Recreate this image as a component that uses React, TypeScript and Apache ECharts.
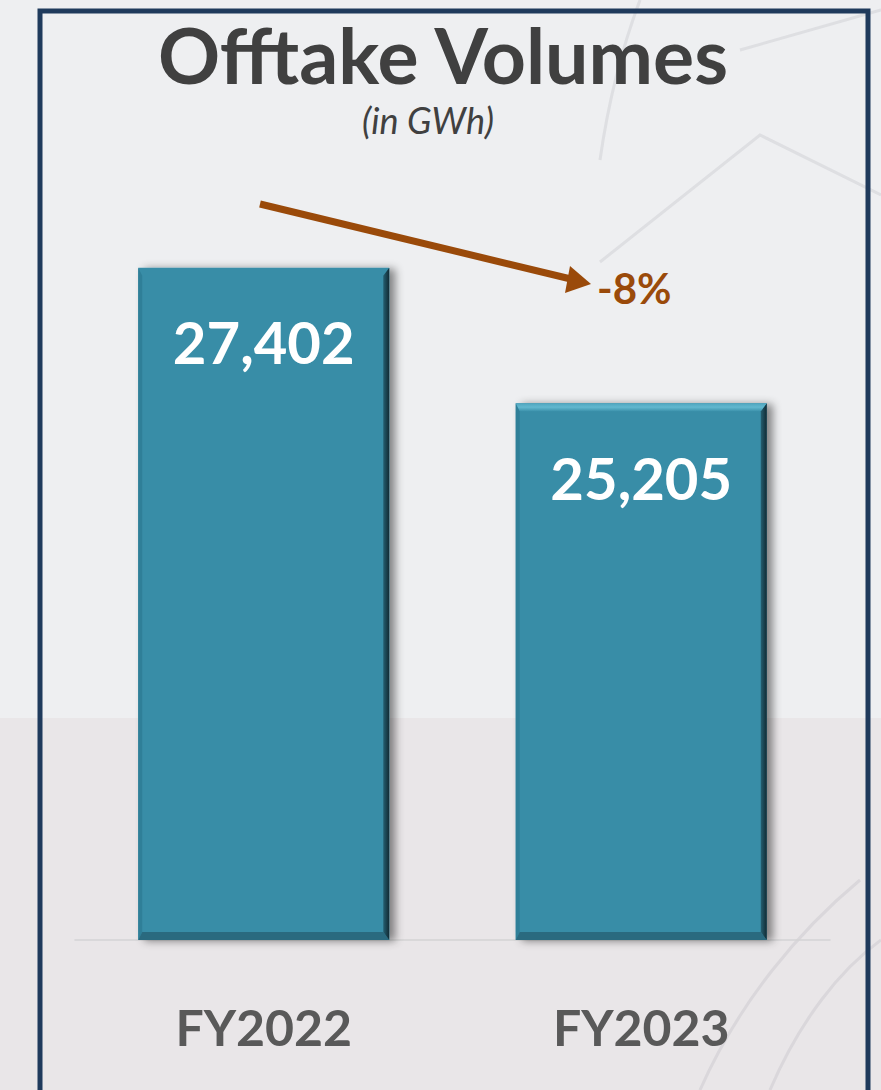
import React, { useEffect, useRef } from "react";
import * as echarts from "echarts";

const categories = ["FY2022", "FY2023"];
const volumes = [27402, 25205];
const valueLabels = ["27,402", "25,205"];
const changeLabel = "-8%";
const titleText = "Offtake Volumes";
const subtitleText = "(in GWh)";
const topBevel = [false, true];

const Y_MIN = 16500;
const Y_MAX = 28500;
const FONT = "Lato, 'Open Sans', 'Noto Sans', sans-serif";

export default function App() {
  const ref = useRef<HTMLDivElement>(null);
  useEffect(() => {
    if (!ref.current) return;
    const chart = echarts.init(ref.current, null, { renderer: "svg" });
    const faint = { stroke: "rgba(150,152,160,0.18)", lineWidth: 3, fill: null };
    const option: any = {
      animation: false,
      backgroundColor: "#EEEFF1",
      grid: { left: 75, right: 51, top: 200, bottom: 150 },
      graphic: [
        { type: "rect", z: -20, shape: { x: 0, y: 718, width: 881, height: 372 }, style: { fill: "#E9E6E8" } },
        { type: "bezierCurve", z: -10, shape: { x1: 600, y1: 160, x2: 640, y2: 0, cpx1: 610, cpy1: 90, cpx2: 625, cpy2: 40 }, style: faint },
        { type: "polyline", z: -10, shape: { points: [[600, 262], [760, 135], [881, 195]] }, style: faint },
        { type: "polyline", z: -10, shape: { points: [[740, 50], [881, 10]] }, style: faint },
        { type: "bezierCurve", z: -10, shape: { x1: 700, y1: 1090, x2: 860, y2: 880, cpx1: 740, cpy1: 1000, cpx2: 800, cpy2: 930 }, style: faint },
        { type: "bezierCurve", z: -10, shape: { x1: 770, y1: 1090, x2: 881, y2: 940, cpx1: 800, cpy1: 1020, cpx2: 840, cpy2: 970 }, style: faint },
        {
          type: "rect", z: 50,
          shape: { x: 40, y: 11, width: 828, height: 1120 },
          style: { fill: null, stroke: "#1F3A5C", lineWidth: 5 },
        },
        {
          type: "text", z: 50, x: 443, y: 54,
          style: { text: titleText, font: `bold 77px ${FONT}`, fill: "#404040", align: "center", verticalAlign: "middle" },
        },
        {
          type: "text", z: 50, x: 428, y: 120,
          style: { text: subtitleText, font: `italic 36px ${FONT}`, fill: "#404040", align: "center", verticalAlign: "middle" },
        },
        {
          type: "line", z: 50,
          shape: { x1: 260, y1: 204, x2: 575, y2: 280 },
          style: { stroke: "#9A4A0A", lineWidth: 7 },
        },
        {
          type: "polygon", z: 50,
          shape: { points: [[591, 284], [570, 266], [565, 293]] },
          style: { fill: "#9A4A0A" },
        },
        {
          type: "text", z: 50, x: 597, y: 288,
          style: { text: changeLabel, font: `bold 42px ${FONT}`, fill: "#9A4A0A", align: "left", verticalAlign: "middle" },
        },
      ],
      xAxis: {
        type: "category",
        data: categories,
        axisLine: { show: true, lineStyle: { color: "#D3D3D5", width: 1.5 } },
        axisTick: { show: false },
        axisLabel: {
          margin: 62,
          fontFamily: FONT,
          fontWeight: "bold",
          fontSize: 50,
          color: "#595959",
        },
      },
      yAxis: {
        type: "value",
        min: Y_MIN,
        max: Y_MAX,
        show: false,
        splitLine: { show: false },
      },
      series: [
        {
          type: "bar",
          data: volumes,
          barWidth: "66.5%",
          z: 2,
          itemStyle: {
            color: "#398DA7",
            shadowColor: "rgba(0,0,0,0.45)",
            shadowBlur: 8,
            shadowOffsetX: 6,
            shadowOffsetY: 1,
          },
          label: {
            show: true,
            position: ["50%", 74],
            align: "center",
            verticalAlign: "middle",
            formatter: (p: any) => valueLabels[p.dataIndex],
            fontFamily: FONT,
            fontWeight: "bold",
            fontSize: 58,
            color: "#FFFFFF",
          },
        },
        {
          type: "custom",
          z: 3,
          silent: true,
          data: volumes.map((v, i) => [i, v]),
          renderItem: (params: any, api: any) => {
            const idx = api.value(0);
            const val = api.value(1);
            const top = api.coord([idx, val]);
            const bot = api.coord([idx, Y_MIN]);
            const w = api.size([1, 0])[0] * 0.665;
            const x0 = top[0] - w / 2;
            const x1 = top[0] + w / 2;
            const y0 = top[1];
            const y1 = bot[1];
            const b = 8;
            const r = 6;
            const l = 4;
            const children: any[] = [];
            children.push({
              type: "polygon",
              shape: { points: [[x0, y0], [x0 + l, y0 + b], [x0 + l, y1 - b], [x0, y1]] },
              style: { fill: "#2F7F98" },
            });
            children.push({
              type: "polygon",
              shape: { points: [[x0, y1], [x0 + l, y1 - b], [x1 - r, y1 - b], [x1, y1]] },
              style: { fill: "#2A6A7F" },
            });
            children.push({
              type: "polygon",
              shape: { points: [[x1, y0], [x1 - r, y0 + b], [x1 - r, y1 - b], [x1, y1]] },
              style: {
                fill: new echarts.graphic.LinearGradient(0, 0, 1, 0, [
                  { offset: 0, color: "#245E70" },
                  { offset: 1, color: "#112A33" },
                ]),
              },
            });
            if (topBevel[params.dataIndex]) {
              children.push({
                type: "polygon",
                shape: { points: [[x0, y0], [x1, y0], [x1 - r, y0 + b], [x0 + l, y0 + b]] },
                style: {
                  fill: new echarts.graphic.LinearGradient(0, 0, 0, 1, [
                    { offset: 0, color: "#4FA5BE" },
                    { offset: 0.5, color: "#62B8CF" },
                    { offset: 1, color: "#3D93AD" },
                  ]),
                },
              });
            }
            return { type: "group", children };
          },
        },
      ],
    };
    chart.setOption(option);
    return () => chart.dispose();
  }, []);
  return (
    <div
      ref={ref}
      style={{ position: "fixed", left: 0, top: 0, width: 881, height: 1090 }}
    />
  );
}
